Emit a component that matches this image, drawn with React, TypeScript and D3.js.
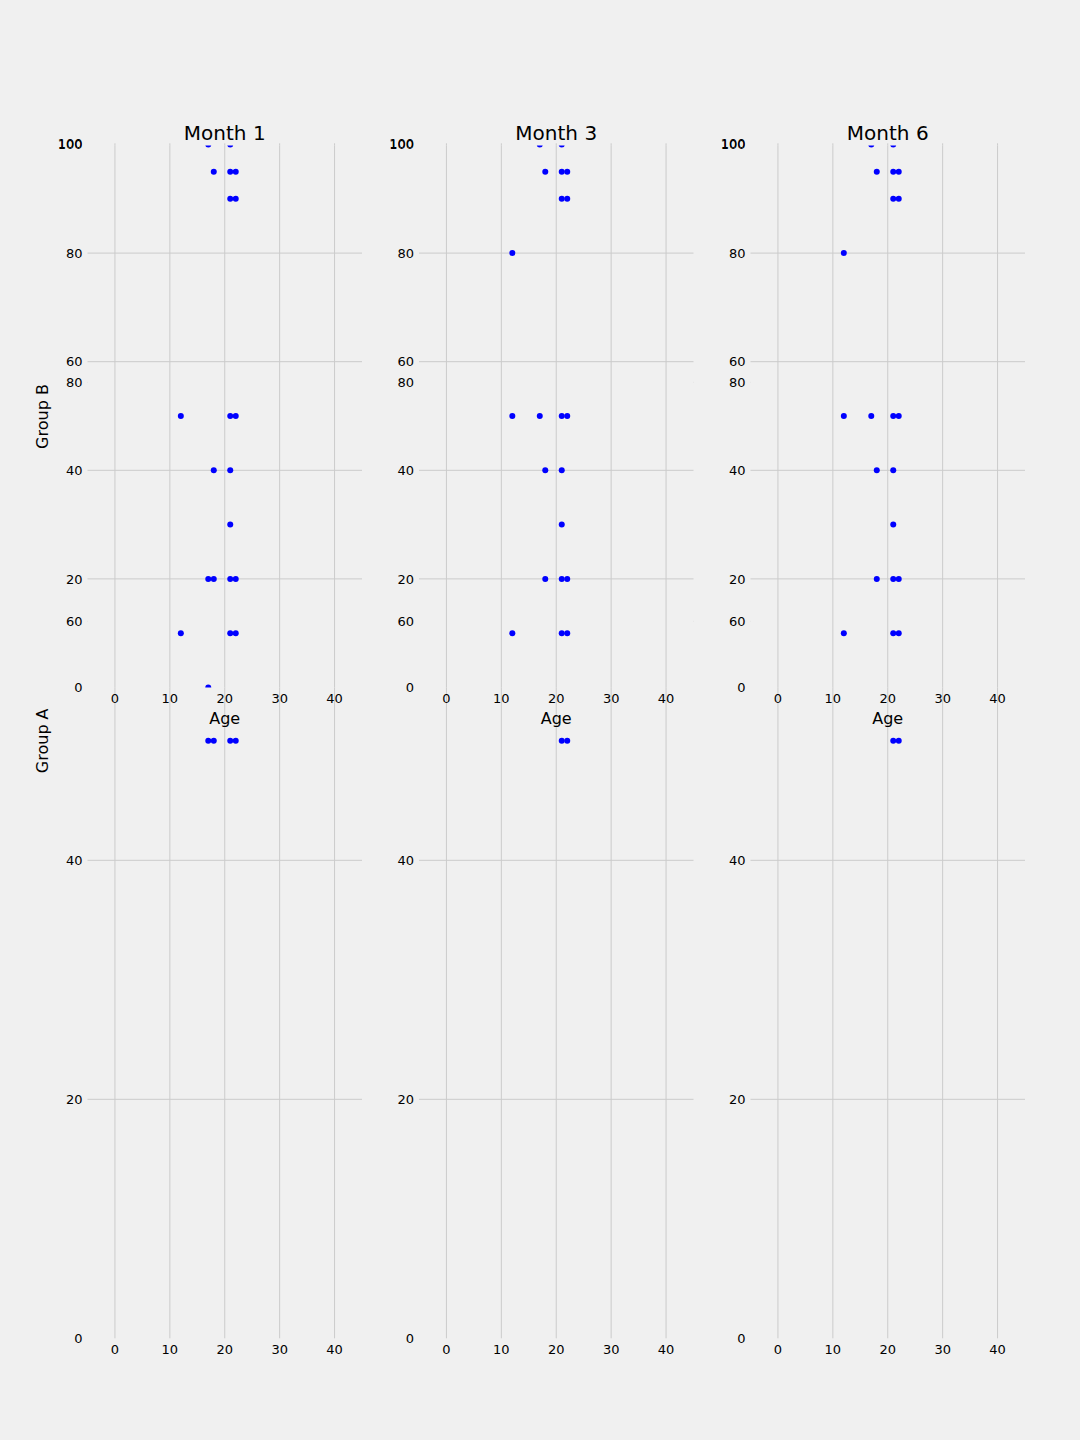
import * as d3 from "d3";

// ---------------------------------------------------------------------------
// DATA (age, score)
// ---------------------------------------------------------------------------
const months = ["Month 1", "Month 3", "Month 6"];

const groupBMonth1: [number, number][] = [
  [17, 100], [21, 100],
  [18, 95], [21, 95], [22, 95],
  [21, 90], [22, 90],
  [12, 50], [21, 50], [22, 50],
  [18, 40], [21, 40],
  [21, 30],
  [17, 20], [18, 20], [21, 20], [22, 20],
  [12, 10], [21, 10], [22, 10],
  [17, 0],
];
const groupBMonth3: [number, number][] = [
  [17, 100], [21, 100],
  [18, 95], [21, 95], [22, 95],
  [21, 90], [22, 90],
  [12, 80],
  [12, 50], [17, 50], [21, 50], [22, 50],
  [18, 40], [21, 40],
  [21, 30],
  [18, 20], [21, 20], [22, 20],
  [12, 10], [21, 10], [22, 10],
];
const groupBMonth6: [number, number][] = [
  [17, 100], [21, 100],
  [18, 95], [21, 95], [22, 95],
  [21, 90], [22, 90],
  [12, 80],
  [12, 50], [17, 50], [21, 50], [22, 50],
  [18, 40], [21, 40],
  [21, 30],
  [18, 20], [21, 20], [22, 20],
  [12, 10], [21, 10], [22, 10],
];

const groupAMonth1: [number, number][] = [[17, 50], [18, 50], [21, 50], [22, 50]];
const groupAMonth3: [number, number][] = [[21, 50], [22, 50]];
const groupAMonth6: [number, number][] = [[21, 50], [22, 50]];

const groupB = [groupBMonth1, groupBMonth3, groupBMonth6];
const groupA = [groupAMonth1, groupAMonth3, groupAMonth6];

const xTicks = [0, 10, 20, 30, 40];
const yTicks = [0, 20, 40, 60, 80, 100];

// ---------------------------------------------------------------------------
// LAYOUT
// ---------------------------------------------------------------------------
const W = 1080;
const H = 1440;
const BG = "#f0f0f0";
const GRID = "#cbcbcb";
const FONT = "DejaVu Sans, sans-serif";

const colLeft = [87.5, 419, 750.5];
const colW = 274.5;

// Group A axes span the full height; Group B axes sit on top of its upper half
const aTop = 143.3;
const aBottom = 1338.3;
const bTop = 145.5;
const bBottom = 687.5;

const yA = d3.scaleLinear().domain([0, 100]).range([aBottom, aTop]);
const yB = d3.scaleLinear().domain([0, 100]).range([bBottom, 144.5]);

function Panel({ ci }: { ci: number }) {
  const left = colLeft[ci];
  const x = d3.scaleLinear().domain([-5, 45]).range([left, left + colW]);

  return (
    <g>
      <defs>
        <clipPath id={`clipA${ci}`}>
          <rect x={left} y={aTop} width={colW} height={aBottom - aTop} />
        </clipPath>
        <clipPath id={`clipB${ci}`}>
          <rect x={left} y={bTop} width={colW} height={bBottom - bTop} />
        </clipPath>
      </defs>

      {/* group A axes (lower, full height) */}
      <rect x={left} y={aTop} width={colW} height={aBottom - aTop} fill={BG} />
      {xTicks.map(t => (
        <line key={"ga" + t} x1={x(t)} x2={x(t)} y1={aTop} y2={aBottom}
          stroke={GRID} strokeWidth={1} />
      ))}
      {yTicks.filter(t => t > 0 && t < 100).map(t => (
        <line key={"gay" + t} x1={left} x2={left + colW} y1={yA(t)} y2={yA(t)}
          stroke={GRID} strokeWidth={1} />
      ))}
      <g clipPath={`url(#clipA${ci})`}>
        {groupA[ci].map((d, i) => (
          <circle key={i} cx={x(d[0])} cy={yA(d[1])} r={3} fill="#0000ff" />
        ))}
      </g>
      {yTicks.map(t => (
        <text key={"la" + t} x={left - 5} y={yA(t) + 4.7} textAnchor="end"
          fontSize={13} fontFamily={FONT} fill="#000">{t}</text>
      ))}
      {xTicks.map(t => (
        <text key={"lax" + t} x={x(t)} y={aBottom + 16} textAnchor="middle"
          fontSize={13} fontFamily={FONT} fill="#000">{t}</text>
      ))}

      {/* group B axes (upper, drawn over) */}
      <rect x={left} y={bTop} width={colW} height={bBottom - bTop} fill={BG} />
      {xTicks.map(t => (
        <line key={"gb" + t} x1={x(t)} x2={x(t)} y1={bTop} y2={bBottom}
          stroke={GRID} strokeWidth={1} />
      ))}
      {yTicks.filter(t => t > 0 && t < 100).map(t => (
        <line key={"gby" + t} x1={left} x2={left + colW} y1={yB(t)} y2={yB(t)}
          stroke={GRID} strokeWidth={1} />
      ))}
      <g clipPath={`url(#clipB${ci})`}>
        {groupB[ci].map((d, i) => (
          <circle key={i} cx={x(d[0])} cy={yB(d[1])} r={3} fill="#0000ff" />
        ))}
      </g>
      {yTicks.map(t => (
        <text key={"lb" + t} x={left - 5} y={yB(t) + 4.7} textAnchor="end"
          fontSize={13} fontFamily={FONT} fill="#000">{t}</text>
      ))}
      {xTicks.map(t => (
        <text key={"lbx" + t} x={x(t)} y={bBottom + 15} textAnchor="middle"
          fontSize={13} fontFamily={FONT} fill="#000">{t}</text>
      ))}
      <text x={left + colW / 2} y={724} textAnchor="middle"
        fontSize={16} fontFamily={FONT} fill="#000">Age</text>

      {/* title */}
      <text x={left + colW / 2} y={139.5} textAnchor="middle"
        fontSize={20} fontFamily={FONT} fill="#000">{months[ci]}</text>
    </g>
  );
}

export default function App() {
  return (
    <svg width={W} height={H} viewBox={`0 0 ${W} ${H}`}
      style={{ position: "absolute", left: 0, top: 0, display: "block" }}>
      <rect x={0} y={0} width={W} height={H} fill={BG} />
      {months.map((m, ci) => <Panel key={m} ci={ci} />)}

      <text transform={`translate(48, ${(bTop + bBottom) / 2}) rotate(-90)`}
        textAnchor="middle" fontSize={16} fontFamily={FONT} fill="#000">Group B</text>
      <text transform={`translate(48, ${(aTop + aBottom) / 2}) rotate(-90)`}
        textAnchor="middle" fontSize={16} fontFamily={FONT} fill="#000">Group A</text>
    </svg>
  );
}
